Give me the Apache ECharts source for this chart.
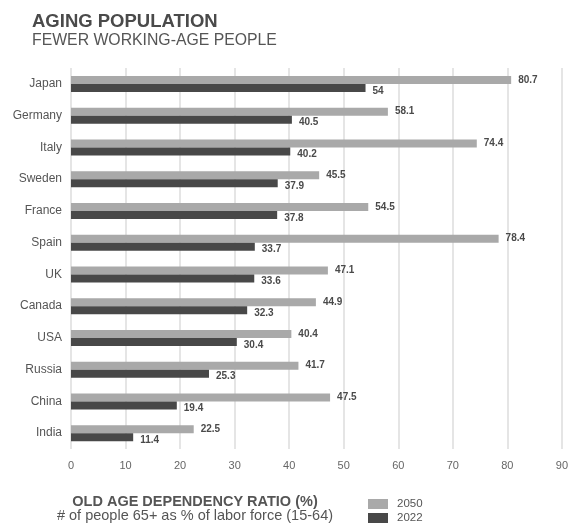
<!DOCTYPE html>
<html>
<head>
<meta charset="utf-8">
<script src="https://cdn.jsdelivr.net/npm/echarts@6/dist/echarts.min.js"></script>
<style>
  html, body { margin: 0; padding: 0; background: #fff; }
  #chart { width: 571px; height: 529px; }
</style>
</head>
<body>
<div id="chart"></div>
<script>
  var countries = ['Japan', 'Germany', 'Italy', 'Sweden', 'France', 'Spain',
                   'UK', 'Canada', 'USA', 'Russia', 'China', 'India'];
  var ratio2050 = [80.7, 58.1, 74.4, 45.5, 54.5, 78.4, 47.1, 44.9, 40.4, 41.7, 47.5, 22.5];
  var ratio2022 = [54, 40.5, 40.2, 37.9, 37.8, 33.7, 33.6, 32.3, 30.4, 25.3, 19.4, 11.4];
  var xTicks = [0, 10, 20, 30, 40, 50, 60, 70, 80, 90];

  var font = '"Liberation Sans", Arial, sans-serif';
  var chart = echarts.init(document.getElementById('chart'));

  var option = {
    animation: false,
    textStyle: { fontFamily: font },
    title: [
      {
        text: 'AGING POPULATION',
        subtext: 'FEWER WORKING-AGE PEOPLE',
        left: 27, top: 7,
        itemGap: 2,
        textStyle: { fontSize: 18.5, fontWeight: 'bold', color: '#4a4a4a', fontFamily: font },
        subtextStyle: { fontSize: 15.8, color: '#555', fontFamily: font }
      },
      {
        text: 'OLD AGE DEPENDENCY RATIO (%)',
        subtext: '# of people 65+ as % of labor force (15-64)',
        left: 190, top: 489,
        textAlign: 'center',
        itemGap: -1,
        textStyle: { fontSize: 14.5, fontWeight: 'bold', color: '#555', fontFamily: font },
        subtextStyle: { fontSize: 14.5, color: '#555', fontFamily: font }
      }
    ],
    legend: {
      orient: 'vertical',
      left: 368, top: 498,
      padding: 0,
      itemWidth: 20, itemHeight: 10, itemGap: 2,
      icon: 'rect',
      textStyle: { fontSize: 11.5, lineHeight: 10, color: '#555', fontFamily: font, padding: [0, 0, 0, 4] },
      data: ['2050', '2022']
    },
    grid: { left: 71, right: 5, top: 68, bottom: 80 },
    xAxis: {
      type: 'value',
      min: 0, max: 90, interval: 10,
      axisLine: { show: false },
      axisTick: { show: false },
      splitLine: { show: true, lineStyle: { color: '#dcdcdc', width: 1.5 } },
      axisLabel: {
        fontSize: 11, color: '#666', margin: 11,
        formatter: function (v) { return xTicks.indexOf(v) >= 0 ? String(v) : ''; }
      }
    },
    yAxis: {
      type: 'category',
      inverse: true,
      data: countries,
      axisLine: { show: false },
      axisTick: { show: false },
      axisLabel: { fontSize: 12, color: '#555', margin: 9 }
    },
    series: [
      {
        name: '2050',
        type: 'bar',
        data: ratio2050,
        barWidth: 8,
        barGap: '0%',
        itemStyle: { color: '#a9a9a9' },
        label: {
          show: true, position: 'right', distance: 7,
          fontSize: 10, fontWeight: 'bold', color: '#4a4a4a'
        }
      },
      {
        name: '2022',
        type: 'bar',
        data: ratio2022,
        barWidth: 8,
        itemStyle: { color: '#484848' },
        label: {
          show: true, position: 'right', distance: 7, offset: [0, 3],
          fontSize: 10, fontWeight: 'bold', color: '#4a4a4a'
        }
      }
    ]
  };
  chart.setOption(option);
</script>
</body>
</html>
